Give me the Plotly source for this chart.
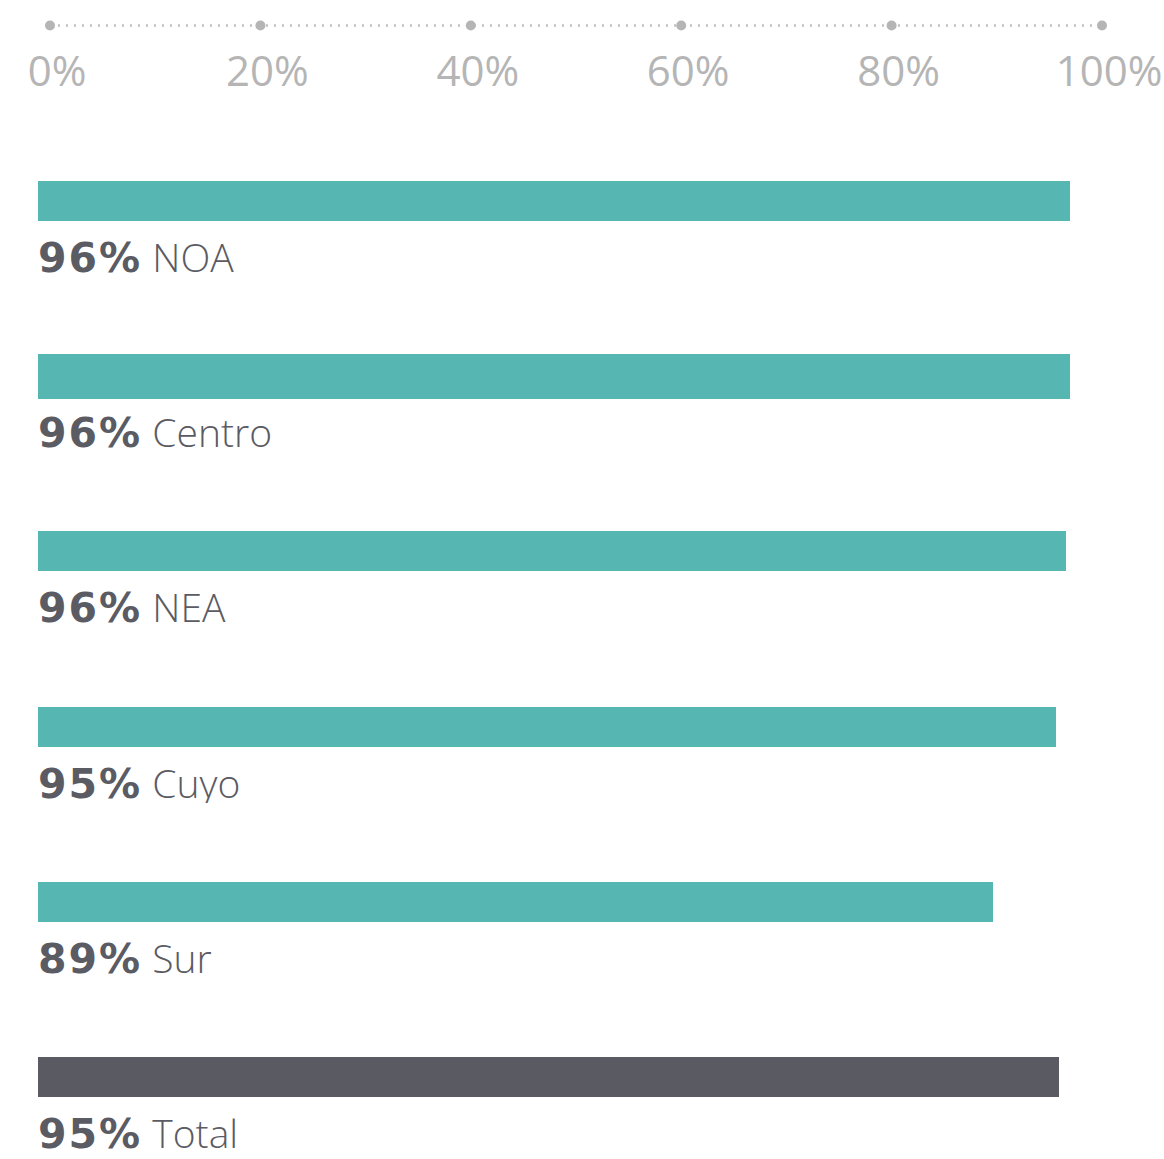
import plotly.graph_objects as go

# Share per region (%), top to bottom
regions = ["NOA", "Centro", "NEA", "Cuyo", "Sur", "Total"]
shares = [96.0, 96.0, 95.6, 94.7, 88.8, 95.0]
bar_colors = ["#56b6b2", "#56b6b2", "#56b6b2", "#56b6b2", "#56b6b2", "#5a5a63"]
bar_thickness_px = [40, 45, 40, 40, 40, 40]

# Percentage scale shown along the top
scale_ticks = [0, 20, 40, 60, 80, 100]
scale_labels = ["0%", "20%", "40%", "60%", "80%", "100%"]

W, H = 1164, 1159
LEFT = 38
PLOT_W = W - LEFT
BAR_PX = 10.75          # pixels per percentage point for the bars
SCALE_PX = 10.52        # pixels per percentage point for the top scale
SCALE_OFFSET = 12       # top scale zero sits a little right of the bar origin
ROW_PX = 175.2
FIRST_ROW = 201
LINE_Y = 25.5           # height of the dotted scale line
STRIP_PX = 43           # height of the strip holding the scale line

fig = go.Figure()

fig.add_trace(go.Bar(
    y=regions,
    x=shares,
    orientation="h",
    marker=dict(color=bar_colors, line=dict(width=0)),
    width=[t / ROW_PX for t in bar_thickness_px],
    hoverinfo="skip",
    xaxis="x",
    yaxis="y",
))

# Dotted scale line with a dot on every tick
fig.add_trace(go.Scatter(
    x=scale_ticks,
    y=[0] * len(scale_ticks),
    mode="lines+markers",
    line=dict(color="#c0c0c0", width=2.5, dash="2px,6px"),
    marker=dict(color="#b5b5b5", size=10),
    cliponaxis=False,
    hoverinfo="skip",
    xaxis="x2",
    yaxis="y2",
))

# Value + region label under each bar
annotations = []
for region, share in zip(regions, shares):
    annotations.append(dict(
        x=0, y=region, xref="x", yref="y",
        xanchor="left", yanchor="middle",
        xshift=-2, yshift=-55,
        height=42, valign="middle",
        showarrow=False,
        text=(f'<span style="font-family:DejaVu Sans;font-weight:bold;'
              f'font-size:41px;letter-spacing:2px">{share:.0f}%</span> {region}'),
        font=dict(family="Open Sans", size=39, color="#5b5b63", weight=300),
    ))

below = (STRIP_PX - LINE_Y) / LINE_Y

fig.update_layout(
    width=W, height=H,
    margin=dict(l=LEFT, r=0, t=0, b=0),
    paper_bgcolor="white",
    plot_bgcolor="white",
    showlegend=False,
    bargap=0,
    xaxis=dict(
        range=[0, PLOT_W / BAR_PX],
        visible=False, fixedrange=True,
    ),
    yaxis=dict(
        type="category",
        categoryorder="array", categoryarray=regions,
        range=[(H - FIRST_ROW) / ROW_PX, -FIRST_ROW / ROW_PX],
        visible=False, fixedrange=True,
    ),
    xaxis2=dict(
        anchor="y2",
        range=[-SCALE_OFFSET / SCALE_PX, (PLOT_W - SCALE_OFFSET) / SCALE_PX],
        tickvals=scale_ticks, ticktext=scale_labels,
        ticks="", showline=False, showgrid=False, zeroline=False,
        ticklabelstandoff=0,
        ticklabelshift=7,
        tickfont=dict(family="Open Sans", size=42, color="#b5b5b5"),
        fixedrange=True,
    ),
    yaxis2=dict(
        domain=[1 - STRIP_PX / H, 1],
        range=[-below, 1],
        visible=False, fixedrange=True,
    ),
    annotations=annotations,
)

fig.write_html("out.html")
